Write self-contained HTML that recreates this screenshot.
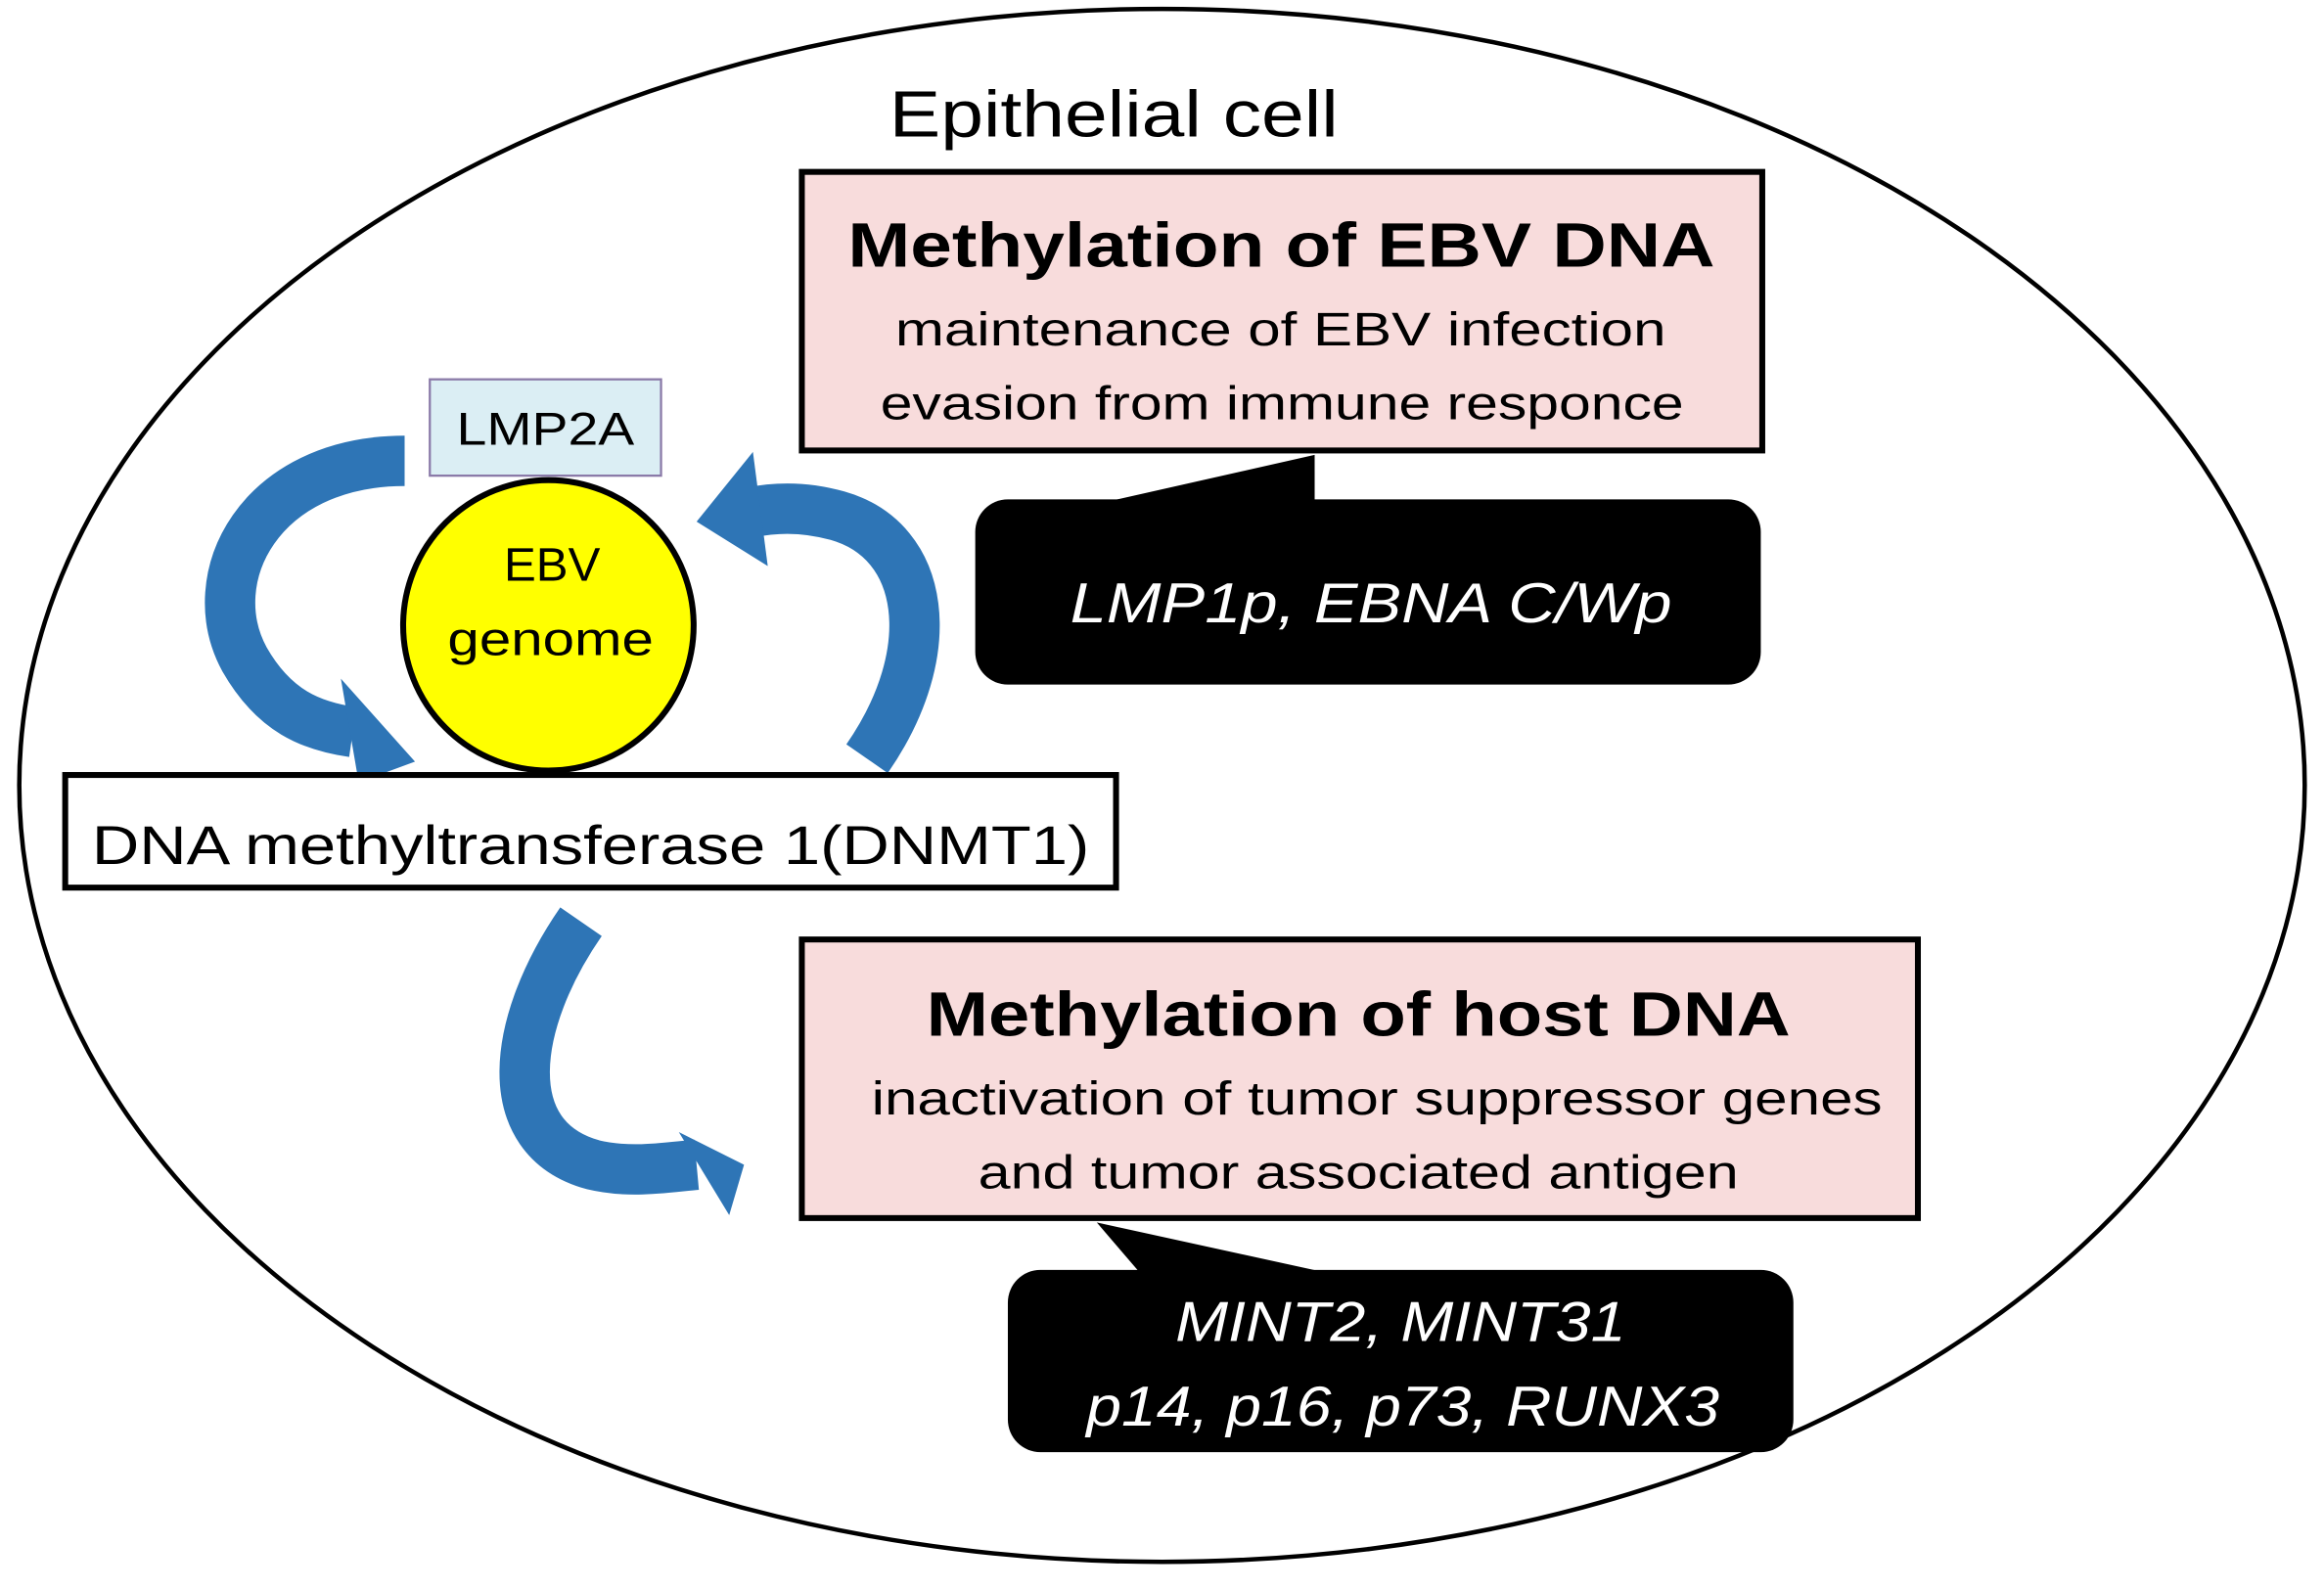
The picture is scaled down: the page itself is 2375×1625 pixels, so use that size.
<!DOCTYPE html>
<html><head><meta charset="utf-8"><style>
html,body{margin:0;padding:0;background:#fff;}
svg{display:block;}
text{font-family:"Liberation Sans","DejaVu Sans",sans-serif;}
</style></head><body>
<svg width="2375" height="1625" viewBox="0 0 1568 1073" preserveAspectRatio="none" xmlns="http://www.w3.org/2000/svg">
<rect width="1568" height="1073" fill="#fff"/>
<ellipse cx="784" cy="530" rx="771" ry="524" fill="none" stroke="#000" stroke-width="3"/>
<text x="600" y="92" font-size="44" textLength="303" lengthAdjust="spacingAndGlyphs">Epithelial cell</text>

<!-- Box 1 -->
<rect x="541" y="116" width="648" height="188" fill="#f8dcdc" stroke="#000" stroke-width="4"/>
<text x="572" y="180" font-size="42" font-weight="bold" textLength="585" lengthAdjust="spacingAndGlyphs">Methylation of EBV DNA</text>
<text x="604" y="233" font-size="32" textLength="520" lengthAdjust="spacingAndGlyphs">maintenance of EBV infection</text>
<text x="594" y="283" font-size="32" textLength="542" lengthAdjust="spacingAndGlyphs">evasion from immune responce</text>

<!-- Callout 1 -->
<rect x="658" y="337" width="530" height="125" rx="22" fill="#000"/>
<polygon points="745,339 887,307 887,339" fill="#000"/>
<text x="722" y="420" font-size="38" font-style="italic" fill="#fff" textLength="406" lengthAdjust="spacingAndGlyphs">LMP1p, EBNA C/Wp</text>

<!-- LMP2A -->
<rect x="290" y="256" width="156" height="65" fill="#dbeef4" stroke="#8a7aa8" stroke-width="1.5"/>
<text x="308" y="300" font-size="31" textLength="120" lengthAdjust="spacingAndGlyphs">LMP2A</text>

<!-- Arrows -->
<g fill="none" stroke="#2e75b6" stroke-width="34">
<path d="M273,311 C175,311 135,390 165,445 C185,480 210,490 238,494"/>
<path d="M585,512 C635,440 625,365 565,348 C540,341 520,343 505,346"/>
<path d="M392,622 C345,690 335,768 400,786 C425,792 448,788 470,786"/>
</g>
<polygon points="230,458 280,514 242,528" fill="#2e75b6"/>
<polygon points="508,305 470,352 518,382" fill="#2e75b6"/>
<polygon points="458,764 502,786 492,820" fill="#2e75b6"/>

<!-- Circle -->
<ellipse cx="370" cy="422" rx="98" ry="98" fill="#ffff00" stroke="#000" stroke-width="4"/>
<text x="340" y="392" font-size="32" textLength="65" lengthAdjust="spacingAndGlyphs">EBV</text>
<text x="302" y="442" font-size="32" textLength="139" lengthAdjust="spacingAndGlyphs">genome</text>

<!-- DNMT1 -->
<rect x="44" y="523" width="709" height="76" fill="#fff" stroke="#000" stroke-width="4"/>
<text x="62" y="583" font-size="37" textLength="673" lengthAdjust="spacingAndGlyphs">DNA methyltransferase 1(DNMT1)</text>

<!-- Box 2 -->
<rect x="541" y="634" width="753" height="188" fill="#f8dcdc" stroke="#000" stroke-width="4"/>
<text x="625" y="699" font-size="42" font-weight="bold" textLength="583" lengthAdjust="spacingAndGlyphs">Methylation of host DNA</text>
<text x="588" y="752" font-size="32" textLength="682" lengthAdjust="spacingAndGlyphs">inactivation of tumor suppressor genes</text>
<text x="660" y="802" font-size="32" textLength="513" lengthAdjust="spacingAndGlyphs">and tumor associated antigen</text>

<!-- Callout 2 -->
<rect x="680" y="857" width="530" height="123" rx="22" fill="#000"/>
<polygon points="740,825 770,860 900,860" fill="#000"/>
<text x="793" y="905" font-size="38" font-style="italic" fill="#fff" textLength="304" lengthAdjust="spacingAndGlyphs">MINT2, MINT31</text>
<text x="733" y="962" font-size="38" font-style="italic" fill="#fff" textLength="427" lengthAdjust="spacingAndGlyphs">p14, p16, p73, RUNX3</text>
</svg>
</body></html>
